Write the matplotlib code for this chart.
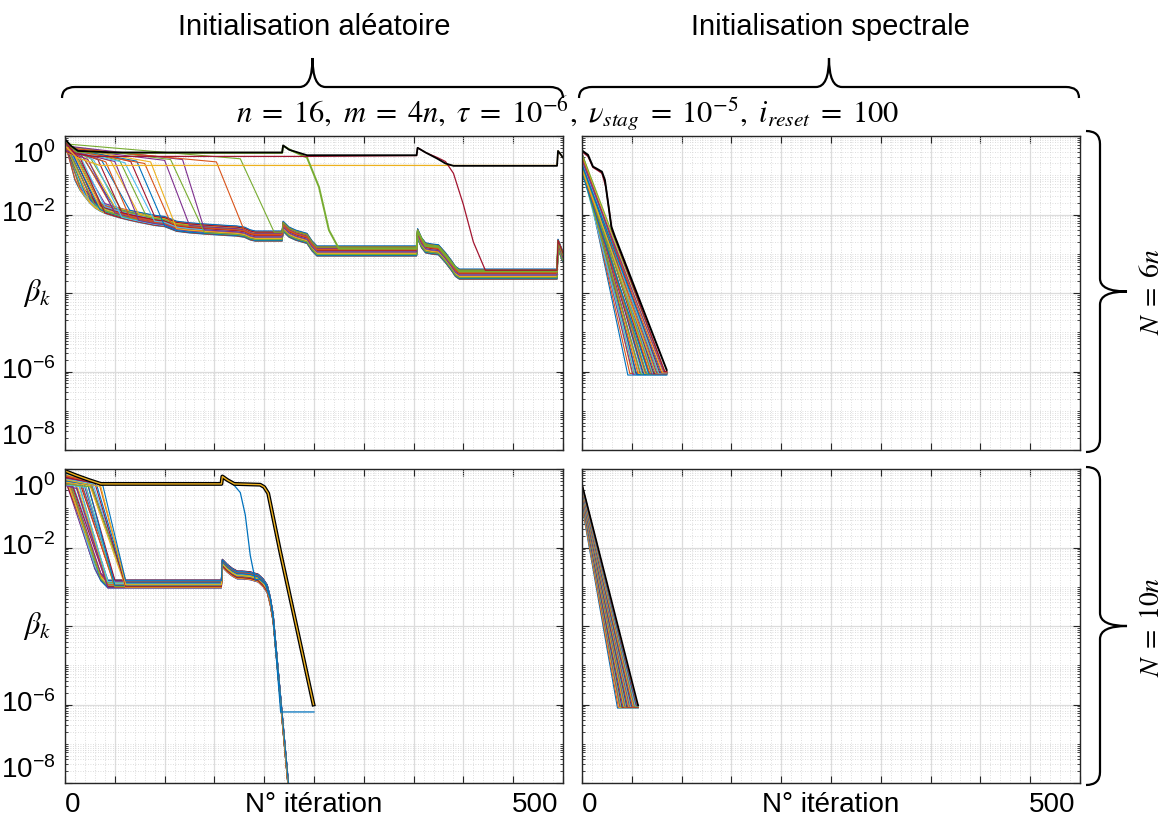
import numpy as np
import matplotlib.pyplot as plt
from matplotlib.path import Path
from matplotlib.patches import PathPatch
from matplotlib.ticker import MultipleLocator, LogLocator, NullFormatter
import matplotlib.transforms as mtransforms

plt.rcParams['font.family'] = ['Liberation Sans', 'DejaVu Sans']

W, H = 1171, 816
MATLAB_COLORS = ['#0072BD', '#D95319', '#EDB120', '#7E2F8E', '#77AC30', '#4DBEEE', '#A2142F']

# ---------------- data (log10 of beta_k) ----------------
COL_TITLES = ['Initialisation aléatoire', 'Initialisation spectrale']
ROW_TITLES = [r'$N\;=\;6n$', r'$N\;=\;10n$']
PARAMS = (r'$n\;=\;16,\ m\;=\;4n,\ \tau\;=\;10^{-6},\ \nu_{stag}\;=\;10^{-5},\ '
          r'i_{reset}\;=\;100$')
Y_TICKS = [1e0, 1e-2, 1e-4, 1e-6, 1e-8]
Y_TICK_LABELS = [r'$\mathdefault{10^{0}}$', r'$\mathdefault{10^{-2}}$', r'$\beta_k$',
                 r'$\mathdefault{10^{-6}}$', r'$\mathdefault{10^{-8}}$']
X_LABELS = ['0', 'N° itération', '500']

# random init, N = 6n : staircase followed by the converged bundle
TL_STAIR_X = np.array([6, 10, 15, 20, 25, 30, 35, 40, 50, 57, 65, 74, 82, 90, 100, 106, 112,
                       125, 140, 152, 164, 172, 180, 186, 191, 200, 210, 218, 219, 225, 232,
                       243, 248, 253, 353, 354, 358, 362, 368, 375, 382, 388, 392, 396, 494,
                       495, 500])
TL_STAIR_LY = np.array([-0.85, -1.0, -1.25, -1.42, -1.58, -1.70, -1.78, -1.84, -1.92, -1.97,
                        -2.02, -2.07, -2.11, -2.15, -2.18, -2.24, -2.30, -2.34, -2.37, -2.39,
                        -2.41, -2.42, -2.45, -2.52, -2.55, -2.55, -2.55, -2.55, -2.30, -2.45,
                        -2.53, -2.61, -2.80, -2.93, -2.93, -2.49, -2.72, -2.85, -2.88, -2.90,
                        -3.10, -3.30, -3.45, -3.52, -3.52, -2.76, -3.08])
TL_LEAVE_X = [0, 0, 0, 1, 1, 2, 2, 3, 3, 4, 5, 5, 6, 7, 8, 9, 10, 11, 12, 14,
              15, 17, 19, 21, 23, 26, 29, 33, 37, 41, 46, 50, 55, 60, 66, 72, 80, 86, 100, 106]
TL_LAND_X = [10, 10, 15, 15, 15, 20, 20, 20, 25, 25, 25, 30, 30, 30, 35, 35, 35, 40, 40, 40,
             40, 50, 50, 50, 50, 57, 57, 57, 65, 65, 74, 74, 82, 90, 90, 100, 106, 112, 125, 140]
TL_START_LY = [-0.15, -0.20, -0.10, -0.25, -0.18, -0.12, -0.30, -0.22, -0.15, -0.28,
               -0.20, -0.35, -0.25, -0.18, -0.30, -0.22, -0.40, -0.28, -0.33, -0.20,
               -0.38, -0.26, -0.31, -0.24, -0.36, -0.28, -0.22, -0.33, -0.26, -0.30,
               -0.24, -0.35, -0.27, -0.32, -0.25, -0.30, -0.34, -0.28, -0.31, -0.26]
TL_HOLD_LY = [-0.15, -0.20, -0.10, -0.30, -0.25, -0.25, -0.35, -0.35, -0.30, -0.40,
              -0.38, -0.45, -0.42, -0.40, -0.48, -0.44, -0.50, -0.47, -0.52, -0.45,
              -0.55, -0.50, -0.56, -0.52, -0.60, -0.58, -0.62, -0.60, -0.63, -0.66,
              -0.64, -0.65, -0.63, -0.68, -0.65, -0.64, -0.70, -0.66, -0.62, -0.60]
TL_OFFSET = [-0.13, -0.10, -0.12, -0.05, 0.00, -0.08, 0.05, -0.02, 0.08, -0.11,
             0.03, -0.06, 0.10, 0.01, -0.09, 0.06, -0.03, 0.12, -0.07, 0.04,
             -0.12, 0.09, -0.01, 0.11, -0.04, 0.07, -0.10, 0.02, 0.13, -0.05,
             0.08, -0.08, 0.05, -0.02, 0.10, -0.11, 0.03, -0.06, 0.06, -0.09]
# the few late runs (purple, orange, green)
TL_LATE_LEAVE = [118, 152, 176]
TL_LATE_LAND = [140, 180, 210]
TL_LATE_START = [-0.25, -0.30, -0.20]
TL_LATE_HOLD = [-0.60, -0.66, -0.58]
TL_LATE_OFF = [-0.02, 0.04, 0.10]
TL_GREEN_X = [0, 12, 50, 218, 219, 228, 243, 255, 265, 275, 353, 354, 362, 375, 388, 396, 494, 495, 500]
TL_GREEN_LY = [-0.12, -0.40, -0.43, -0.43, -0.25, -0.38, -0.55, -1.30, -2.40, -2.87, -2.87,
               -2.42, -2.80, -2.83, -3.23, -3.45, -3.45, -2.69, -3.01]
TL_RED_X = [0, 10, 30, 243, 353, 354, 362, 374, 382, 390, 400, 410, 422, 494, 495, 500]
TL_RED_LY = [-0.15, -0.45, -0.52, -0.52, -0.50, -0.30, -0.42, -0.55, -0.65, -0.95, -1.75,
             -2.70, -3.42, -3.42, -2.66, -2.98]
TL_YELLOW_X = [0, 12, 35, 494, 495, 500]
TL_YELLOW_LY = [-0.25, -0.55, -0.75, -0.75, -0.38, -0.55]
TL_BLACK_X = [0, 6, 13, 50, 218, 219, 225, 243, 353, 354, 362, 374, 382, 390, 494, 495, 500]
TL_BLACK_LY = [-0.08, -0.25, -0.38, -0.42, -0.42, -0.24, -0.35, -0.49, -0.49, -0.30, -0.42,
               -0.58, -0.70, -0.76, -0.76, -0.38, -0.55]

# random init, N = 10n
BL_STAIR_X = np.array([30, 36, 43, 50, 61, 157, 158, 163, 168, 173, 178, 186, 194, 199, 203,
                       206, 209, 224, 228])
BL_STAIR_LY = np.array([-2.45, -2.75, -2.93, -2.93, -2.93, -2.93, -2.40, -2.53, -2.63, -2.70,
                        -2.70, -2.72, -2.78, -2.90, -3.05, -3.35, -3.80, -8.00, -9.00])
BL_LEAVE_X = [0, 0, 0, 1, 1, 2, 2, 3, 4, 4, 5, 6, 7, 8, 9, 10, 11, 12, 13, 14,
              15, 16, 17, 18, 19, 20, 21, 22, 23, 24, 25, 26, 27, 28, 30, 32, 34, 36]
BL_LAND_X = [30, 30, 30, 30, 30, 30, 36, 36, 36, 36, 36, 36, 43, 43, 43, 43, 43, 43, 43, 43,
             50, 50, 50, 50, 50, 50, 50, 50, 50, 61, 61, 61, 61, 61, 61, 61, 61, 61]
BL_START_LY = [-0.15, -0.10, -0.22, -0.30, -0.18, -0.25, -0.35, -0.12, -0.28, -0.40,
               -0.20, -0.33, -0.26, -0.38, -0.15, -0.30, -0.24, -0.42, -0.19, -0.34,
               -0.27, -0.22, -0.36, -0.14, -0.31, -0.25, -0.40, -0.20, -0.29, -0.17,
               -0.33, -0.23, -0.38, -0.26, -0.21, -0.30, -0.18, -0.27]
BL_HOLD_LY = [-0.15, -0.10, -0.22, -0.33, -0.22, -0.30, -0.40, -0.18, -0.34, -0.45,
              -0.28, -0.40, -0.33, -0.45, -0.25, -0.38, -0.32, -0.50, -0.30, -0.42,
              -0.36, -0.32, -0.44, -0.26, -0.40, -0.35, -0.47, -0.32, -0.40, -0.30,
              -0.42, -0.35, -0.46, -0.38, -0.36, -0.42, -0.35, -0.45]
BL_OFFSET = [-0.10, -0.06, 0.02, -0.08, 0.07, -0.03, 0.09, -0.09, 0.04, -0.01,
             0.08, -0.05, 0.01, -0.07, 0.10, -0.02, 0.05, -0.10, 0.03, 0.06,
             -0.04, 0.09, -0.08, 0.00, 0.07, -0.06, 0.02, 0.10, -0.03, 0.05,
             -0.09, 0.04, -0.01, 0.08, -0.07, 0.03, 0.06, -0.02]
BL_STUCK_X = [0, 12, 24, 36, 157, 158, 163, 170, 196, 200, 204, 216, 249.5]
BL_STUCK_LY = [-0.05, -0.17, -0.28, -0.38, -0.38, -0.19, -0.28, -0.38, -0.40, -0.46, -0.62,
               -2.10, -6.00]
BL_BLUE_X = [0, 12, 24, 36, 157, 158, 165, 170, 176, 181, 186, 191, 195, 201, 206, 209, 216.5, 250]
BL_BLUE_LY = [-0.05, -0.17, -0.28, -0.38, -0.38, -0.19, -0.32, -0.42, -0.60, -1.17, -2.20,
              -2.83, -2.80, -2.93, -3.30, -3.80, -6.19, -6.19]
BL_LATE_BLUE = dict(leave=38, land=61, start=-0.10, hold=-0.42, off=0.08)

# spectral init, N = 6n : straight runs down to ~1e-6
TR_END_X = [46, 48, 50, 51, 52, 53, 54, 55, 56, 57, 58, 59, 60, 61, 62, 63, 63, 64, 65, 66,
            67, 67, 68, 69, 70, 70, 71, 72, 73, 74, 74, 75, 76, 77, 78, 79, 80, 81, 82, 83]
TR_START_LY = [-0.53, -0.62, -0.45, -0.70, -0.58, -0.85, -0.48, -0.66, -0.75, -0.52,
               -0.60, -0.90, -0.44, -0.68, -0.56, -0.80, -0.50, -0.63, -0.72, -0.47,
               -0.59, -0.95, -0.54, -0.66, -0.43, -0.78, -0.57, -0.49, -0.69, -0.61,
               -0.84, -0.46, -0.55, -0.64, -0.51, -0.74, -0.58, -0.48, -0.62, -0.45]
TR_END_LY = [-6.09, -6.05, -6.03, -6.07, -6.02, -6.06, -6.04, -6.08, -6.03, -6.05,
             -6.02, -6.06, -6.04, -6.03, -6.07, -6.02, -6.05, -6.04, -6.06, -6.03,
             -6.02, -6.05, -6.04, -6.03, -6.06, -6.02, -6.04, -6.05, -6.03, -6.02,
             -6.04, -6.03, -6.02, -6.04, -6.03, -6.02, -6.03, -6.02, -6.01, -6.00]
TR_LAST_X = 85
TR_RED_X = [0, 6, 11, 16, 20, 24, 30, 34, 83]
TR_RED_LY = [-0.40, -0.52, -0.80, -0.88, -0.95, -1.30, -2.40, -2.65, -6.00]
TR_BLACK_X = [0, 6, 11, 16, 20, 23, 29.5, 33, 85]
TR_BLACK_LY = [-0.37, -0.48, -0.78, -0.85, -0.91, -1.12, -2.31, -2.56, -5.96]

# spectral init, N = 10n
BR_END_X = [35.6, 36.5, 37.5, 38.0, 38.8, 39.5, 40.2, 41.0, 41.6, 42.3, 43.0, 43.6, 44.3, 45.0,
            45.6, 46.3, 47.0, 47.6, 48.3, 49.0, 49.6, 50.3, 51.0, 51.6, 52.3, 53.0, 53.6,
            54.3, 55.0, 55.6]
BR_START_LY = [-0.95, -0.92, -0.90, -0.86, -0.84, -0.82, -0.79, -0.77, -0.74, -0.72, -0.70,
               -0.68, -0.66, -0.64, -0.62, -0.60, -0.58, -0.56, -0.55, -0.53, -0.51, -0.50,
               -0.48, -0.47, -0.45, -0.44, -0.43, -0.42, -0.41, -0.40]
BR_END_LY = [-6.09, -6.07, -6.08, -6.05, -6.06, -6.04, -6.07, -6.05, -6.03, -6.06, -6.04,
             -6.05, -6.03, -6.06, -6.04, -6.03, -6.05, -6.04, -6.03, -6.05, -6.04, -6.03,
             -6.04, -6.03, -6.02, -6.04, -6.03, -6.02, -6.03, -6.02]
BR_LAST_X = 56.5
BR_BLACK_X = [0, 56.3]
BR_BLACK_LY = [-0.39, -6.02]


# ---------------- helpers ----------------
def px_to_fig(x, y):
    return x / W, 1 - y / H


def bundle_line(ax, leave, land, start, hold, off, sx, sly, color, lw=0.8):
    k = int(np.searchsorted(sx, land))
    xs = np.concatenate([[0, leave], sx[k:]])
    ly = np.concatenate([[start, hold], sly[k:] + off])
    ax.plot(xs, 10.0 ** ly, color=color, lw=lw)


def straight_run(ax, end_x, start_ly, end_ly, last_x, color, lw=0.8):
    ax.plot([0, end_x, last_x], 10.0 ** np.array([start_ly, end_ly, end_ly]), color=color, lw=lw)


def hbrace(fig, x0, x1, y_end, y_flat, y_tip, r, lw=1.6):
    xm = (x0 + x1) / 2
    pts = [(x0, y_end), (x0, y_flat), (x0 + r, y_flat), (xm - r, y_flat), (xm, y_flat),
           (xm, y_tip), (xm, y_flat), (xm + r, y_flat), (x1 - r, y_flat), (x1, y_flat),
           (x1, y_end)]
    codes = [Path.MOVETO, Path.CURVE3, Path.CURVE3, Path.LINETO, Path.CURVE3, Path.CURVE3,
             Path.CURVE3, Path.CURVE3, Path.LINETO, Path.CURVE3, Path.CURVE3]
    verts = [px_to_fig(x, y) for x, y in pts]
    fig.add_artist(PathPatch(Path(verts, codes), fill=False, lw=lw, color='black',
                             transform=fig.transFigure))


def vbrace(fig, y0, y1, x_end, x_flat, x_tip, r, lw=1.6):
    ym = (y0 + y1) / 2
    pts = [(x_end, y0), (x_flat, y0), (x_flat, y0 + r), (x_flat, ym - r), (x_flat, ym),
           (x_tip, ym), (x_flat, ym), (x_flat, ym + r), (x_flat, y1 - r), (x_flat, y1),
           (x_end, y1)]
    codes = [Path.MOVETO, Path.CURVE3, Path.CURVE3, Path.LINETO, Path.CURVE3, Path.CURVE3,
             Path.CURVE3, Path.CURVE3, Path.LINETO, Path.CURVE3, Path.CURVE3]
    verts = [px_to_fig(x, y) for x, y in pts]
    fig.add_artist(PathPatch(Path(verts, codes), fill=False, lw=lw, color='black',
                             transform=fig.transFigure))


def style_axes(ax, left_col, bottom_row):
    ax.set_yscale('log')
    ax.set_ylim(1e-8, 1e0)
    ax.set_xlim(0, 500)
    ax.set_yticks(Y_TICKS)
    ax.yaxis.set_minor_locator(LogLocator(base=10, subs=np.arange(1, 10), numticks=100))
    ax.yaxis.set_minor_formatter(NullFormatter())
    ax.xaxis.set_major_locator(MultipleLocator(50))
    ax.xaxis.set_minor_locator(MultipleLocator(10))
    ax.set_yticklabels([])
    ax.set_xticklabels([])
    ax.tick_params(which='both', direction='in', top=True, right=True, color='#262626')
    ax.tick_params(which='major', length=5, width=0.8)
    ax.tick_params(which='minor', length=2.5, width=0.6)
    ax.tick_params(axis='x', which='minor', length=0)
    ax.grid(which='major', color='#dcdcdc', lw=0.9, ls='-')
    ax.grid(which='minor', color='#d4d4d4', lw=0.6, ls=(0, (1, 2)))
    ax.set_axisbelow(True)
    for sp in ax.spines.values():
        sp.set_linewidth(1.0)
        sp.set_color('#262626')
    if left_col:
        for val, lab in zip(Y_TICKS, Y_TICK_LABELS):
            tr = mtransforms.blended_transform_factory(ax.transAxes, ax.transData)
            dy = 0
            if val == Y_TICKS[0]:
                dy = -19
            elif val == Y_TICKS[-1]:
                dy = 13
            tr = tr + mtransforms.ScaledTranslation(0, dy / 100, ax.figure.dpi_scale_trans)
            if 'beta' in lab:
                ax.text(-0.055, val, lab, transform=tr, ha='center', va='center', fontsize=22,
                        math_fontfamily='stix')
            else:
                ax.text(-0.02, val, lab, transform=tr, ha='right', va='center', fontsize=20)
    if bottom_row:
        y_base = -29 / 314
        ax.text(0.0, y_base, X_LABELS[0], transform=ax.transAxes, ha='left', va='baseline', fontsize=20)
        ax.text(0.5, y_base, X_LABELS[1], transform=ax.transAxes, ha='center', va='baseline', fontsize=20)
        ax.text(0.99, y_base, X_LABELS[2], transform=ax.transAxes, ha='right', va='baseline', fontsize=20)


# ---------------- figure ----------------
fig = plt.figure(figsize=(W / 100, H / 100), dpi=100)
ax_w = 498 / W
ax_h = 314 / H
ax_tl = fig.add_axes([65 / W, 1 - 450 / H, ax_w, ax_h])
ax_tr = fig.add_axes([582 / W, 1 - 450 / H, ax_w, ax_h])
ax_bl = fig.add_axes([65 / W, 1 - 783 / H, ax_w, ax_h])
ax_br = fig.add_axes([582 / W, 1 - 783 / H, ax_w, ax_h])

# top left
for i in range(len(TL_LEAVE_X)):
    bundle_line(ax_tl, TL_LEAVE_X[i], TL_LAND_X[i], TL_START_LY[i], TL_HOLD_LY[i], TL_OFFSET[i],
                TL_STAIR_X, TL_STAIR_LY, MATLAB_COLORS[i % 7])
for i, c in enumerate(['#7E2F8E', '#D95319', '#77AC30']):
    bundle_line(ax_tl, TL_LATE_LEAVE[i], TL_LATE_LAND[i], TL_LATE_START[i], TL_LATE_HOLD[i],
                TL_LATE_OFF[i], TL_STAIR_X, TL_STAIR_LY, c)
ax_tl.plot(TL_YELLOW_X, 10.0 ** np.array(TL_YELLOW_LY), color='#EDB120', lw=0.9)
ax_tl.plot(TL_GREEN_X, 10.0 ** np.array(TL_GREEN_LY), color='#77AC30', lw=1.4)
ax_tl.plot(TL_RED_X, 10.0 ** np.array(TL_RED_LY), color='#A2142F', lw=0.9)
ax_tl.plot(TL_BLACK_X, 10.0 ** np.array(TL_BLACK_LY), color='black', lw=1.3)

# bottom left
for i in range(len(BL_LEAVE_X)):
    bundle_line(ax_bl, BL_LEAVE_X[i], BL_LAND_X[i], BL_START_LY[i], BL_HOLD_LY[i], BL_OFFSET[i],
                BL_STAIR_X, BL_STAIR_LY, MATLAB_COLORS[i % 7])
bundle_line(ax_bl, BL_LATE_BLUE['leave'], BL_LATE_BLUE['land'], BL_LATE_BLUE['start'],
            BL_LATE_BLUE['hold'], BL_LATE_BLUE['off'], BL_STAIR_X, BL_STAIR_LY, '#0072BD')
ax_bl.plot(BL_BLUE_X, 10.0 ** np.array(BL_BLUE_LY), color='#0072BD', lw=0.9)
ax_bl.plot(BL_STUCK_X, 10.0 ** np.array(BL_STUCK_LY), color='black', lw=2.8)
ax_bl.plot(BL_STUCK_X, 10.0 ** np.array(BL_STUCK_LY), color='#EDB120', lw=1.0)

# top right
for i in range(len(TR_END_X)):
    straight_run(ax_tr, TR_END_X[i], TR_START_LY[i], TR_END_LY[i], TR_LAST_X, MATLAB_COLORS[i % 7])
ax_tr.plot(TR_RED_X + [TR_LAST_X], 10.0 ** np.array(TR_RED_LY + [TR_RED_LY[-1]]),
           color='#A2142F', lw=1.0)
ax_tr.plot(TR_BLACK_X, 10.0 ** np.array(TR_BLACK_LY), color='black', lw=1.4)

# bottom right
for i in range(len(BR_END_X)):
    straight_run(ax_br, BR_END_X[i], BR_START_LY[i], BR_END_LY[i], BR_LAST_X, MATLAB_COLORS[i % 7])
ax_br.plot(BR_BLACK_X, 10.0 ** np.array(BR_BLACK_LY), color='black', lw=1.2)

style_axes(ax_tl, True, False)
style_axes(ax_tr, False, False)
style_axes(ax_bl, True, True)
style_axes(ax_br, False, True)

# column and row annotations
fig.text(*px_to_fig(314, 27), COL_TITLES[0], ha='center', va='center', fontsize=21)
fig.text(*px_to_fig(830, 27), COL_TITLES[1], ha='center', va='center', fontsize=21)
hbrace(fig, 62, 563, 98, 87, 58, 13)
hbrace(fig, 579, 1079, 98, 87, 58, 13)
fig.text(*px_to_fig(568, 114), PARAMS, ha='center', va='center', fontsize=22,
         math_fontfamily='stix')
vbrace(fig, 131, 452, 1086, 1100, 1127, 13)
vbrace(fig, 467, 785, 1086, 1100, 1127, 13)
fig.text(*px_to_fig(1152, 292), ROW_TITLES[0], ha='center', va='center', fontsize=20,
         rotation=90, math_fontfamily='stix')
fig.text(*px_to_fig(1152, 627), ROW_TITLES[1], ha='center', va='center', fontsize=20,
         rotation=90, math_fontfamily='stix')

fig.savefig('out.png', dpi=100)
